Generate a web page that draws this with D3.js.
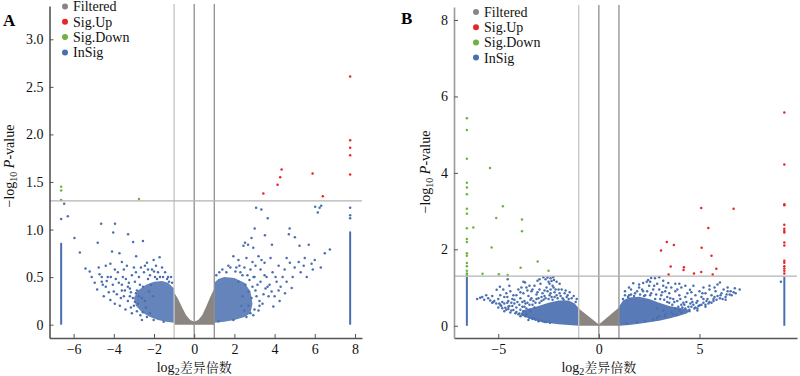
<!DOCTYPE html>
<html><head><meta charset="utf-8">
<script src="https://cdn.jsdelivr.net/npm/d3@7"></script>
<style>
body{margin:0;background:#fff}
svg{display:block}
svg text{font-family:"Liberation Serif","Times New Roman",Tinos,"DejaVu Serif",serif}
</style>
</head><body>
<svg id="chart" width="800" height="376"></svg>
<script>
// ---------- DATA ----------
const categories = ["Filtered", "Sig.Up", "Sig.Down", "InSig"];

// Panel A
const aXTicks = [-6, -4, -2, 0, 2, 4, 6, 8];
const aYTicks = [0, 0.5, 1.0, 1.5, 2.0, 2.5, 3.0];
const aSigUp = [[7.76,2.61],[7.76,1.94],[7.76,1.86],[7.76,1.78],[7.76,1.58],[4.35,1.63],[4.28,1.55],[4.15,1.47],[3.44,1.38],[5.89,1.59],[6.4,1.35]];
const aSigDown = [[-6.62,1.45],[-6.62,1.41],[-6.62,1.31],[-2.75,1.32]];
const aInSig = [
 [-6.47,1.27],[-6.62,1.11],[-6.29,1.14],[-4.63,1.06],[-3.94,1.06],[-4.03,.97],[-3.29,.95],[-5.96,.91],[-4.8,.86],[-3.04,.87],[-2.55,.88],
 [-5.69,.76],[-5.41,.59],[-4.71,.53],[-4.95,.44],[-4.09,.77],[-3.72,.75],[-2.89,.72],[-1.72,.71],[-4.17,.64],[-2.35,.65],[-2.02,.68],
 [-4.83,.37],[-4.6,.45],[-4.4,.40],[-4.5,.30],[-4.17,.26],[-4.0,.35],[-3.9,.48],[-3.8,.55],[-3.6,.42],[-3.5,.30],[-3.42,.16],[-3.3,.25],
 [-3.2,.38],[-3.1,.52],[-3.0,.60],[-2.95,.45],[-2.9,.33],[-2.8,.22],[-2.68,.10],[-2.6,.28],[-2.55,.40],[-2.5,.55],[-2.45,.62],[-2.4,.18],
 [-2.3,.48],[-2.25,.35],[-2.2,.12],[-2.02,.05],[-2.1,.58],[-1.9,.62],[-1.8,.55],[-1.6,.60],[-1.52,.03],[-1.3,.5],[-1.25,.45],[-3.7,.2],
 [-3.95,.22],[-4.3,.5],[-4.75,.6],[-5.1,.5],[-3.35,.62],[-3.55,.5],[-2.75,.5],[-2.65,.6],[-3.85,.32],[-4.4,.62],[-5.2,.56],[-3.15,.18],
 [-2.85,.14],[-3.05,.28],[-3.25,.44],[-3.45,.36],[-3.65,.28],[-4.05,.42],[-4.25,.34],[-4.55,.42],[-2.15,.42],[-1.95,.5],[-1.45,.55],
 [-2.05,.30],[-2.35,.08],[-2.55,.13],[-2.7,.42],[-2.85,.36],[-3.0,.2],[-3.2,.3],[-2.45,.25],[-2.6,.05],[-1.15,.5],[-1.7,.5],
 [-3.1,.12],[-3.3,.4],[-3.4,.48],[-3.6,.36],[-3.75,.44],[-3.95,.58],[-4.15,.5],[-4.35,.46],[-2.2,.52],[-1.85,.48],[-1.55,.5],[-1.35,.48],
 [-2.95,.24],[-3.15,.34],[-2.75,.3],[-2.3,.58],[-2.0,.56],[-1.1,.44],[-3.5,.58],[-2.9,.55],[-3.6,.66],[-4.6,.5],
 [3.08,1.23],[3.34,1.21],[3.66,1.12],[6.02,1.24],[6.24,1.23],[6.32,1.25],[6.15,1.18],[3.01,1.01],[4.75,1.01],[3.52,.94],[4.71,.95],
 [5.01,.92],[2.85,.91],[2.53,.86],[2.45,.83],[2.68,.84],[2.94,.81],[3.87,.84],[5.24,.83],[5.7,.84],[6.75,.79],[6.5,.75],[5.84,.64],
 [4.76,.65],[4.85,.385],[1.95,.72],[2.2,.68],[2.6,.7],[3.2,.72],[3.5,.65],[3.8,.7],[4.2,.62],[4.5,.58],[5.0,.6],[5.3,.55],[5.5,.7],
 [6.0,.68],[4.52,.33],[3.94,.19],[2.94,.10],[1.95,.05],[1.21,.035],[2.3,.55],[2.5,.6],[2.8,.58],[3.0,.5],[3.3,.45],[3.6,.5],[3.9,.55],
 [4.1,.45],[4.3,.4],[3.7,.3],[3.4,.22],[3.1,.3],[2.9,.4],[2.7,.2],[2.5,.15],[2.4,.3],[4.0,.3],[4.4,.5],[4.6,.45],[3.2,.15],[2.2,.45],
 [2.1,.6],[1.8,.6],[1.6,.55],[5.6,.5],[6.3,.6],[5.9,.58],[4.9,.5],[2.75,.47],[3.55,.38],[3.75,.42],[4.25,.25],[3.05,.62],[2.65,.52],
 [2.7,.35],[2.85,.28],[3.3,.58],[2.55,.42],[2.35,.2],[2.6,.08],[1.4,.58],[1.1,.52],
 [3.15,.42],[3.45,.32],[3.25,.25],[3.65,.4],[3.85,.35],[4.05,.5],[4.2,.36],[3.5,.52],[3.05,.36],[2.95,.5],[2.4,.52],[2.05,.56],
 [1.7,.62],[1.25,.55],[2.25,.62],[2.9,.66],[3.35,.68],[4.6,.7],[5.2,.66],[5.45,.62],[3.0,.16],[3.25,.2],[2.8,.12],
 [7.76,1.23],[7.76,1.15],[7.76,1.12]
];
const aInSigCores = [
 [[-1.0,0.02],[-1.4,0.03],[-1.8,0.05],[-2.2,0.08],[-2.6,0.13],[-2.9,0.2],[-3.0,0.28],[-2.8,0.36],[-2.4,0.42],[-2.0,0.45],[-1.6,0.46],[-1.3,0.44],[-1.0,0.38]],
 [[1.0,0.02],[1.5,0.03],[2.0,0.05],[2.5,0.08],[2.8,0.12],[2.9,0.22],[2.8,0.35],[2.5,0.44],[2.0,0.49],[1.5,0.5],[1.2,0.48],[1.0,0.44]]
];
const aInSigColumns = [[-6.62,0,0.86],[7.76,0,0.98]];
const aFiltered = [[-1,0],[-1,0.34],[-0.8,0.27],[-0.6,0.18],[-0.4,0.1],[-0.2,0.05],[0,0.03],[0.2,0.05],[0.4,0.1],[0.6,0.19],[0.8,0.29],[1,0.38],[1,0]];

// Panel B
const bXTicks = [-5, 0, 5];
const bYTicks = [0, 2, 4, 6, 8];
const bSigUp = [[9.22,5.58],[9.22,4.22],[9.22,3.18],[9.22,3.15],[5.09,3.08],[6.7,3.06],[9.22,2.64],[9.22,2.54],[9.22,2.48],[9.22,2.44],
 [5.44,2.56],[3.38,2.19],[3.73,2.11],[9.22,2.18],[9.22,2.1],[5.11,2.04],[3.09,1.97],[3.57,1.55],[3.47,1.34],[4.23,1.53],[4.21,1.46],
 [4.73,1.37],[5.09,1.41],[5.6,1.83],[5.84,1.49],[5.66,1.34],[9.22,1.7],[9.22,1.65],[9.22,1.56],[9.22,1.5],[9.22,1.44],[9.22,1.37]];
const bSigDown = [[-6.56,5.43],[-6.56,5.12],[-6.56,4.37],[-5.41,4.13],[-6.56,3.74],[-6.56,3.62],[-6.56,3.44],[-6.56,3.06],[-6.56,2.93],
 [-4.77,3.13],[-5.1,2.82],[-3.82,2.78],[-3.82,2.47],[-6.56,2.55],[-6.24,2.57],[-6.56,2.27],[-6.56,2.19],[-5.33,2.05],[-6.56,1.9],
 [-6.56,1.83],[-6.56,1.64],[-6.56,1.56],[-6.56,1.44],[-6.56,1.37],[-6.56,1.33],[-5.78,1.36],[-4.97,1.35],[-4.53,1.33],[-3.89,1.52],
 [-3.04,1.68],[-2.5,1.44]];
const bInSig = [
 [-5.5,.72],[-4.92,1.02],[-4.53,1.22],[-5.08,.94],[-3.67,1.13],[-2.76,1.27],[-2.27,1.27],[-2.23,1.2],[-4.25,.41],[-3.26,.2],[-2.43,.08],
 [-5.9,.73],[-5.7,.68],[-5.3,.78],[-5.2,.65],[-5.0,.7],[-4.8,.62],[-4.7,.75],[-4.6,.85],[-4.4,.9],[-4.3,.7],[-4.2,.58],[-4.1,.8],[-4.0,.95],
 [-3.9,.72],[-3.8,.62],[-3.75,.85],[-3.6,1.0],[-3.5,.78],[-3.4,.68],[-3.35,.9],[-3.2,1.05],[-3.1,.82],[-3.0,.72],[-2.95,.95],[-2.9,1.1],
 [-2.8,.85],[-2.7,.78],[-2.6,1.0],[-2.55,.9],[-2.5,1.15],[-2.45,.8],[-2.4,.95],[-2.35,.75],[-2.3,1.05],[-2.2,.88],[-2.1,.8],[-2.0,.95],
 [-1.9,.78],[-1.8,.72],[-1.7,.85],[-1.6,.75],[-1.5,.7],[-4.5,.5],[-4.6,.42],[-4.7,.38],[-4.8,.46],[-4.9,.55],[-5.0,.48],[-5.1,.58],
 [-5.3,.6],[-4.4,.35],[-4.0,.3],[-3.9,.42],[-3.7,.5],[-4.1,.48],[-4.3,.52],[-3.6,.3],[-3.9,.25],[-4.15,.33],[-3.5,.15],[-3.0,.12],
 [-2.7,.1],[-4.55,.6],[-3.65,.58],[-3.3,.55],[-3.15,.6],[-2.85,.65],[-3.45,.42],[-5.6,.8],[-5.8,.75],[-6.05,.7],[-4.45,1.05],[-4.75,.95],
 [-3.85,1.0],[-3.05,1.18],[-2.65,1.22],[-2.55,1.26],[-2.4,1.24],
 [-5.4,.66],[-5.25,.62],[-4.95,.58],[-4.85,.52],[-4.65,.47],[-4.5,.44],[-4.35,.4],[-4.1,.36],[-3.95,.32],[-3.8,.28],[-3.65,.25],[-3.45,.21],
 [-3.3,.18],[-3.15,.16],[-2.95,.14],[-2.8,.12],[-2.6,.1],[-4.7,.58],[-4.5,.65],[-4.35,.6],[-4.2,.68],[-4.05,.62],[-3.95,.55],[-3.8,.5],
 [-3.7,.65],[-3.55,.6],[-3.45,.55],[-3.35,.72],[-3.25,.65],[-3.1,.7],[-2.95,.6],[-2.85,.75],[-2.75,.68],[-2.65,.72],[-2.5,.7],[-2.4,.85],
 [-2.3,.68],[-2.2,.75],[-2.15,.95],[-2.05,.72],[-1.95,.85],[-1.85,.95],[-1.75,.68],[-1.65,.92],[-1.55,.8],[-1.45,.88],[-1.35,.72],[-1.25,.78],
 [-1.15,.62],[-1.1,.7],[-3.05,.88],[-3.3,.95],[-3.55,.92],[-3.9,.88],[-4.25,.8],[-4.55,.75],[-4.9,.8],[-2.7,.92],[-2.45,1.1],[-2.25,1.0],
 [-1.95,1.1],[-2.1,1.15],[-3.45,1.05],[-3.75,1.15],[-2.95,1.22],[-2.35,1.17],[-3.2,.48],[-3.4,.38],[-3.6,.45],[-3.75,.38],[-4.45,.52],
 [1.71,1.11],[2.38,1.15],[2.79,1.24],[4.53,.94],[6.02,1.13],[6.76,.98],[6.6,.8],[1.38,.06],[2.7,.15],[3.87,.28],[5.02,.54],[6.02,.72],
 [2.0,1.0],[2.2,.9],[2.5,1.05],[2.6,.85],[2.9,1.1],[3.0,.95],[3.1,.8],[3.2,1.05],[3.3,.9],[3.4,.75],[3.5,.85],[3.6,1.0],[3.7,.7],[3.8,.9],
 [3.9,.65],[4.0,.8],[4.1,1.0],[4.2,.6],[4.3,.75],[4.4,.85],[4.6,.7],[4.7,.55],[4.8,.8],[4.9,.65],[5.0,.9],[5.1,.75],[5.2,.6],[5.3,.85],
 [5.4,.7],[5.5,.95],[5.6,.8],[5.7,.65],[5.8,.9],[5.9,.78],[6.1,.85],[6.2,.95],[6.3,.75],[6.4,.9],[6.5,.82],[5.3,.5],[5.5,.62],[4.5,.42],
 [4.3,.45],[4.0,.4],[3.8,.45],[3.6,.35],[3.3,.3],[3.0,.25],[4.6,.5],[4.8,.48],[5.7,.7],[6.3,.68],[1.8,.85],[1.5,.8],[1.6,.95],[2.3,.8],
 [2.8,.7],[3.5,.6],[4.1,.55],[4.9,.4],[3.2,.4],[2.9,.45],[6.8,.85],[7.0,.95],[2.45,1.2],[2.6,1.25],[3.0,1.27],[3.8,1.1],[4.3,1.05],
 [5.5,1.05],[5.9,1.08],[9.05,1.15],
 [1.2,.7],[1.3,.8],[1.45,.75],[1.6,.82],[1.75,.78],[1.9,.9],[2.05,.82],[2.15,.95],[2.25,.78],[2.4,.9],[2.55,.8],[2.7,.95],[2.85,.82],
 [3.05,.7],[3.15,.88],[3.25,.68],[3.4,.62],[3.55,.72],[3.65,.55],[3.75,.62],[3.95,.5],[4.05,.7],[4.15,.48],[4.25,.55],[4.35,.62],[4.45,.5],
 [4.55,.58],[4.65,.62],[4.75,.45],[4.85,.6],[4.95,.52],[5.1,.55],[5.2,.7],[5.35,.65],[5.45,.58],[5.6,.6],[5.75,.75],[5.85,.68],[6.05,.8],
 [6.15,.7],[6.35,.82],[6.55,.9],[6.7,.88],[1.9,.1],[2.3,.12],[2.9,.2],[3.3,.24],[3.7,.3],[4.1,.35],[4.5,.38],[4.9,.45],[5.3,.55],[2.0,1.08],
 [2.2,1.12],[2.55,1.15],[3.2,1.18],[3.45,1.12],[4.0,1.1],[4.7,1.05],[5.2,1.0],[5.75,1.0],[6.4,1.0],[1.5,1.0],[1.3,.9],[3.9,.95],[4.6,.88],
 [5.15,.85],[3.35,1.0],[2.75,1.05]
];
const bInSigCores = [
 [[-1.0,0.0],[-1.5,0.02],[-2.0,0.04],[-2.5,0.07],[-3.0,0.12],[-3.5,0.2],[-3.9,0.28],[-3.8,0.4],[-3.4,0.46],[-3.0,0.52],[-2.5,0.6],[-2.0,0.66],[-1.5,0.66],[-1.2,0.58],[-1.0,0.46]],
 [[1.0,0.0],[1.5,0.02],[2.0,0.05],[2.5,0.09],[3.0,0.13],[3.5,0.19],[4.0,0.26],[4.4,0.33],[4.5,0.42],[4.0,0.47],[3.5,0.52],[3.0,0.6],[2.5,0.7],[2.0,0.76],[1.5,0.74],[1.2,0.66],[1.0,0.5]]
];
const bInSigColumns = [[-6.56,0,1.28],[9.22,0,1.28]];
const bFiltered = [[-1,0],[-1,0.45],[0,0.03],[1,0.48],[1,0]];

// ---------- STYLE ----------
const COL = {"Filtered":"#8a8580","Sig.Up":"#e8262a","Sig.Down":"#6db33f","InSig":"#4a6fb0"};
const CJK = "'Noto Serif CJK SC','Noto Sans CJK SC',sans-serif";
const svg = d3.select("#chart");

function panel(cfg) {
  const x = d3.scaleLinear().domain(cfg.xDom).range(cfg.xRange);
  const y = d3.scaleLinear().domain(cfg.yDom).range(cfg.yRange);
  const g = svg.append("g");
  const line = d3.line().x(d => x(d[0])).y(d => y(d[1]));

  g.append("path").attr("d", line(cfg.filtered) + "Z").attr("fill", COL.Filtered);
  cfg.cores.forEach(c => g.append("path").attr("d", line(c) + "Z").attr("fill", COL.InSig).attr("fill-opacity", cfg.coreOpacity));
  g.selectAll(".col").data(cfg.columns).join("line")
    .attr("x1", d => x(d[0])).attr("x2", d => x(d[0]))
    .attr("y1", d => y(d[1])).attr("y2", d => y(d[2]))
    .attr("stroke", COL.InSig).attr("stroke-width", 2);

  const dots = (data, cat) => g.append("g").selectAll("circle").data(data).join("circle")
    .attr("cx", d => x(d[0])).attr("cy", d => y(d[1])).attr("r", 1.25).attr("fill", COL[cat]);
  dots(cfg.insig, "InSig");
  dots(cfg.down, "Sig.Down");
  dots(cfg.up, "Sig.Up");

  // reference lines
  const yTop = cfg.yRange[1] - 2, yBot = cfg.yRange[0];
  [[-1, "#c4c4c4"], [0, "#8e8e8e"], [1, "#8e8e8e"]].forEach(([v, c]) => {
    g.append("line").attr("x1", x(v)).attr("x2", x(v)).attr("y1", yTop).attr("y2", yBot)
      .attr("stroke", c).attr("stroke-width", 1.3);
  });
  g.append("line").attr("x1", cfg.xRange[0]).attr("x2", cfg.xRange[1])
    .attr("y1", y(1.301)).attr("y2", y(1.301)).attr("stroke", "#b3b3b3").attr("stroke-width", 1.3);

  // axes
  const ax = g.append("g").attr("transform", `translate(0,${cfg.yRange[0]})`)
    .call(d3.axisBottom(x).tickValues(cfg.xTicks).tickSize(-4).tickSizeOuter(0).tickPadding(6).tickFormat(d3.format("d")));
  const ay = g.append("g").attr("transform", `translate(${cfg.xRange[0]},0)`)
    .call(d3.axisLeft(y).tickValues(cfg.yTicks).tickSize(-4).tickSizeOuter(0).tickPadding(6).tickFormat(cfg.yFmt));
  [ax, ay].forEach(a => {
    a.attr("font-family", null).attr("font-size", null);
    a.selectAll("text").attr("font-size", 14).attr("fill", "#111");
    a.selectAll("line").attr("stroke", "#555");
  });
  ax.select(".domain").attr("stroke", "#555").attr("stroke-width", 1.3);
  ay.select(".domain").attr("stroke", cfg.yAxisColor).attr("stroke-width", 1.6);

  // axis titles
  const xt = g.append("text").attr("x", x(0)).attr("y", 372).attr("text-anchor", "middle").attr("font-size", 14).attr("fill", "#111");
  xt.append("tspan").text("log");
  xt.append("tspan").attr("font-size", 10).attr("dy", 3).text("2");
  xt.append("tspan").attr("dy", -3).style("font-family", CJK).attr("font-size", 13).text("差异倍数");

  const yt = g.append("text").attr("transform", `translate(${cfg.yTitleX},${cfg.yTitleY}) rotate(-90)`)
    .attr("text-anchor", "middle").attr("font-size", 14).attr("fill", "#111");
  yt.append("tspan").text("\u2212log");
  yt.append("tspan").attr("font-size", 10).attr("dy", 3).text("10");
  yt.append("tspan").attr("dy", -3).text(" ");
  yt.append("tspan").attr("font-style", "italic").text("P");
  yt.append("tspan").text("-value");

  // panel label
  g.append("text").attr("x", cfg.labelX).attr("y", cfg.labelY).attr("font-size", 17).attr("font-weight", "bold").text(cfg.label);

  // legend
  const lg = g.append("g").selectAll("g").data(categories).join("g")
    .attr("transform", (d, i) => `translate(${cfg.legX},${cfg.legY + i * cfg.legStep})`);
  lg.append("circle").attr("r", 3).attr("fill", d => COL[d]);
  lg.append("text").attr("x", 8).attr("dy", "0.35em").attr("font-size", 14).attr("fill", "#111").text(d => d);
}

panel({
  xDom: [-7.2, 8.35], xRange: [49.5, 362], yDom: [-0.14, 3.35], yRange: [338, 6],
  xTicks: aXTicks, yTicks: aYTicks, yFmt: d => d === 0 ? "0" : d3.format(".1f")(d),
  filtered: aFiltered, cores: aInSigCores, columns: aInSigColumns, coreOpacity: 0.85,
  insig: aInSig, down: aSigDown, up: aSigUp, yAxisColor: "#555",
  yTitleX: 14, yTitleY: 166, label: "A", labelX: 3, labelY: 26,
  legX: 65, legY: 6.5, legStep: 15.3
});
panel({
  xDom: [-7.2, 9.85], xRange: [454, 797], yDom: [-0.32, 8.34], yRange: [338, 7],
  xTicks: bXTicks, yTicks: bYTicks, yFmt: d3.format("d"),
  filtered: bFiltered, cores: bInSigCores, columns: bInSigColumns, coreOpacity: 0.92,
  insig: bInSig, down: bSigDown, up: bSigUp, yAxisColor: "#999",
  yTitleX: 430, yTitleY: 172, label: "B", labelX: 401, labelY: 24,
  legX: 476, legY: 12, legStep: 15.2
});
</script>
</body></html>
